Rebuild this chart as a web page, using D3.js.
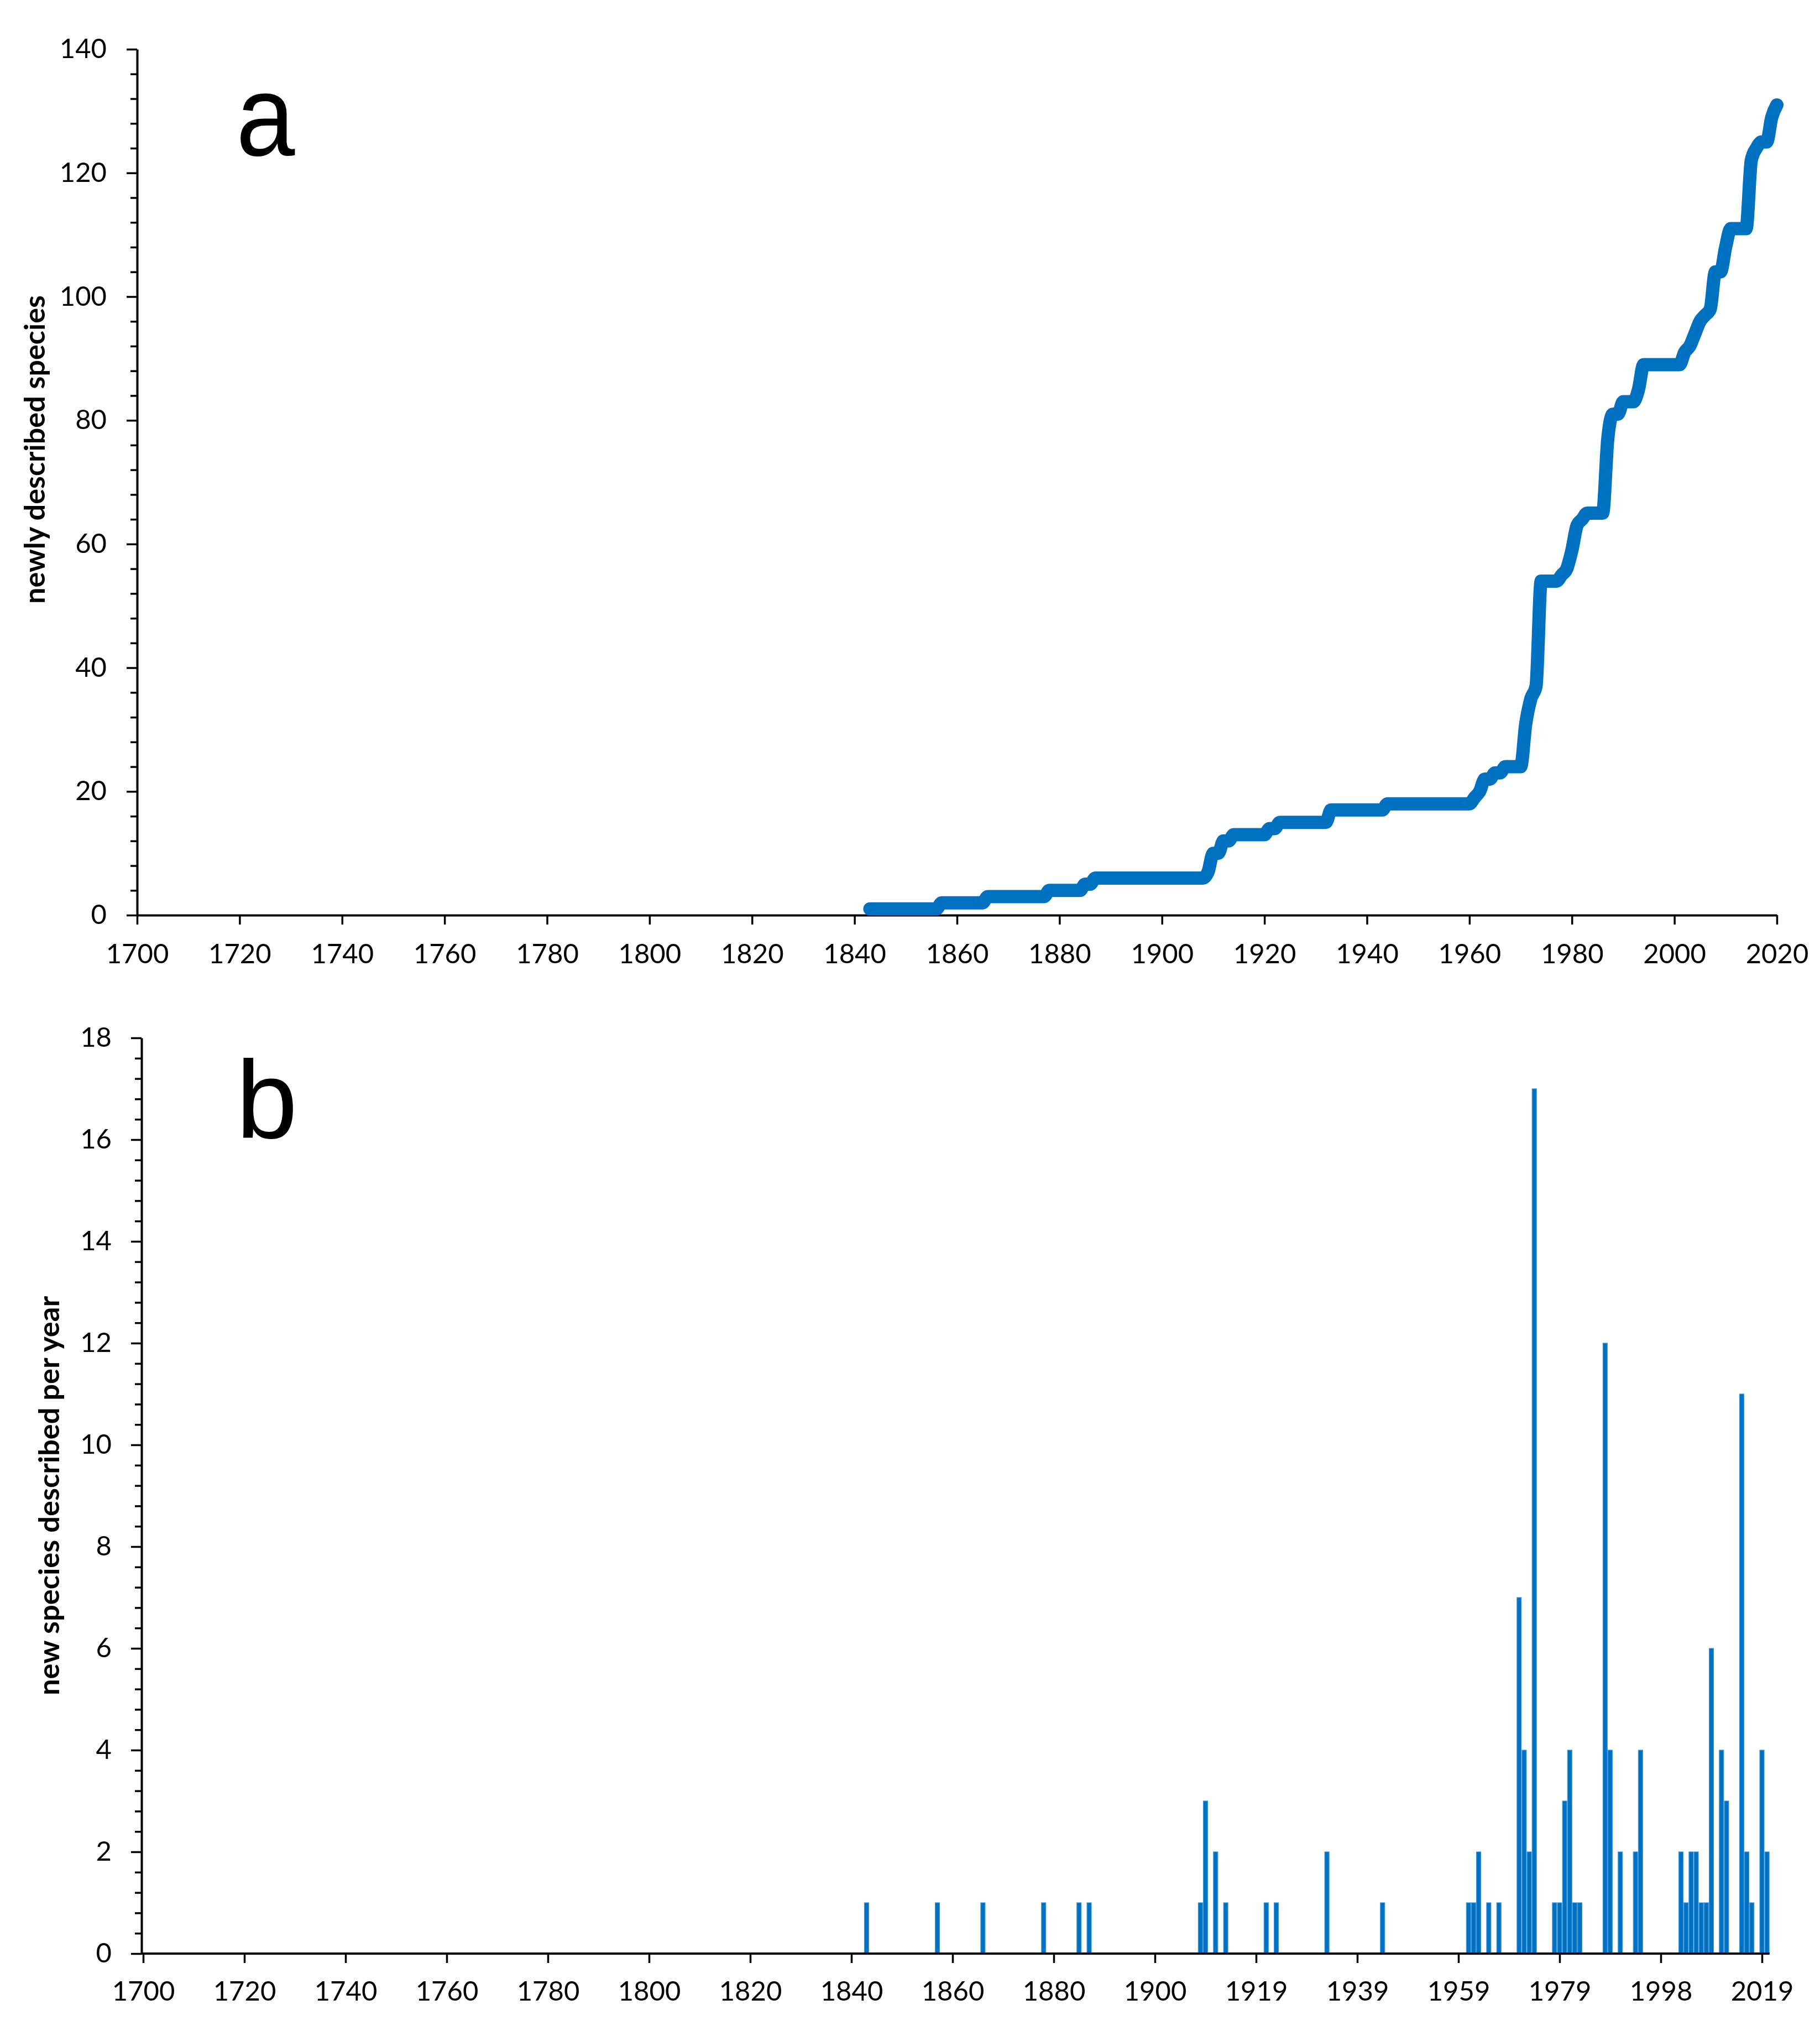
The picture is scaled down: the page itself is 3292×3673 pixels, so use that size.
<!DOCTYPE html>
<html>
<head>
<meta charset="utf-8">
<script src="https://cdn.jsdelivr.net/npm/d3@7"></script>
<style>
  body { margin: 0; background: #fff; }
  svg { display: block; }
  .tick text { font-family: Lato, "Open Sans", sans-serif; font-size: 49px; fill: #000; }
  .ylab { font-family: Lato, "Open Sans", sans-serif; font-weight: bold; font-size: 52px; }
  .panel { font-family: "Liberation Sans", Arial, sans-serif; }
</style>
</head>
<body>
<svg id="chart" width="3292" height="3673"></svg>
<script>
// species described per year (year, count)
var years  = [1843,1857,1866,1878,1885,1887,
              1909,1910,1912,1914,1921,1923,1933,1944,
              1961,1962,1963,1965,1967,1971,1972,1973,1974,
              1978,1979,1980,1981,1982,1983,1987,1988,1990,1993,1994,
              2002,2003,2004,2005,2006,2007,2008,2010,2011,
              2015,2016,2017,2019,2020];
var counts = [1,1,1,1,1,1,
              1,3,2,1,1,1,2,1,
              1,1,2,1,1,7,4,2,17,
              1,1,3,4,1,1,12,4,2,2,4,
              2,1,2,2,1,1,6,4,3,
              11,2,1,4,2];

// tick labels
var aXTicks = [1700,1720,1740,1760,1780,1800,1820,1840,1860,1880,1900,1920,1940,1960,1980,2000,2020];
var aYTicks = [0,20,40,60,80,100,120,140];
var bYTicks = [0,2,4,6,8,10,12,14,16,18];
var bXTickLabels = ["1700","1720","1740","1760","1780","1800","1820","1840","1860","1880",
                    "1900","1919","1939","1959","1979","1998","2019"];

var svg = d3.select("#chart");
var blue = "#0070c0";

// ---------- panel a : cumulative ----------
var xa = d3.scaleLinear().domain([1700, 2020]).range([248, 3214]);
var ya = d3.scaleLinear().domain([0, 140]).range([1655, 89]);

var byYear = new Map(years.map(function(y, i) { return [y, counts[i]]; }));
var cum = [];
var total = 0;
for (var yr = years[0]; yr <= 2020; yr++) {
  total += byYear.get(yr) || 0;
  cum.push({year: yr, n: total});
}

var ga = svg.append("g");

var minorA = d3.range(0, 141, 4).filter(function(d) { return d % 20 != 0; });
ga.append("g").attr("transform", "translate(248,0)")
  .call(d3.axisLeft(ya).tickValues(minorA).tickSize(12).tickFormat(""))
  .call(function(g) { g.select(".domain").remove(); });
ga.append("g").attr("transform", "translate(248,0)")
  .call(d3.axisLeft(ya).tickValues(aYTicks).tickSize(19).tickSizeOuter(0).tickPadding(36));

ga.append("g").attr("transform", "translate(0,1655)")
  .call(d3.axisBottom(xa).tickValues(aXTicks).tickFormat(d3.format("d")).tickSize(17).tickSizeOuter(0).tickPadding(35));

ga.append("path")
  .datum(cum)
  .attr("fill", "none")
  .attr("stroke", blue)
  .attr("stroke-width", 24)
  .attr("stroke-linecap", "round")
  .attr("stroke-linejoin", "round")
  .attr("d", d3.line().x(function(d) { return xa(d.year); }).y(function(d) { return ya(d.n); }).curve(d3.curveMonotoneX));

ga.append("text").attr("class", "ylab")
  .attr("transform", "translate(81,813) rotate(-90)")
  .attr("text-anchor", "middle")
  .attr("textLength", 558).attr("lengthAdjust", "spacingAndGlyphs")
  .text("newly described species");

ga.append("text").attr("class", "panel")
  .attr("transform", "translate(427,281) scale(0.92,1)")
  .attr("font-size", 208)
  .text("a");

// ---------- panel b : per year ----------
// the spreadsheet's category axis is not one slot per year: an extra slot
// after 1914 and after 1983, and one year short after 2011
var slotShift = d3.scaleThreshold().domain([1915, 1984, 2012]).range([0, 1, 2, 1]);
function slot(y) { return y - 1700 + slotShift(y); }

// slot centres
var xb = d3.scaleLinear().domain([0, 320]).range([259, 3187]);
var yb = d3.scaleLinear().domain([0, 18]).range([3533, 1877]);
var sw = xb(1) - xb(0);

var gb = svg.append("g");

gb.selectAll("rect.bar")
  .data(years.map(function(y, i) { return {year: y, n: counts[i]}; }))
  .enter().append("rect")
  .attr("class", "bar")
  .attr("x", function(d) { return xb(slot(d.year)) - sw / 2 + 0.6; })
  .attr("width", sw - 1.2)
  .attr("y", function(d) { return yb(d.n); })
  .attr("height", function(d) { return yb(0) - yb(d.n); })
  .attr("fill", blue)
  .attr("stroke", "#3f9be0")
  .attr("stroke-width", 1.2);

var minorB = d3.range(0, 46).filter(function(i) { return i % 5 != 0; }).map(function(i) { return i * 0.4; });
gb.append("g").attr("transform", "translate(256,0)")
  .call(d3.axisLeft(yb).tickValues(minorB).tickSize(12).tickFormat(""))
  .call(function(g) { g.select(".domain").remove(); });
gb.append("g").attr("transform", "translate(256,0)")
  .call(d3.axisLeft(yb).tickValues(bYTicks).tickSize(19).tickSizeOuter(0).tickPadding(35));

var bSlots = bXTickLabels.map(function(d, i) { return i * 20; });
gb.append("g").attr("transform", "translate(0,3533)")
  .call(d3.axisBottom(xb).tickValues(bSlots)
    .tickFormat(function(d, i) { return bXTickLabels[i]; })
    .tickSize(17).tickSizeOuter(0).tickPadding(33))
  .call(function(g) { g.select(".domain").remove(); });
gb.append("line")
  .attr("x1", 256).attr("x2", xb(321) + sw / 2)
  .attr("y1", 3533).attr("y2", 3533)
  .attr("stroke", "#000").attr("stroke-width", 4);

gb.append("text").attr("class", "ylab")
  .attr("transform", "translate(107,2705) rotate(-90)")
  .attr("text-anchor", "middle")
  .attr("textLength", 722).attr("lengthAdjust", "spacingAndGlyphs")
  .text("new species described per year");

gb.append("text").attr("class", "panel")
  .attr("x", 427).attr("y", 2058)
  .attr("font-size", 200)
  .text("b");

// axis styling
svg.selectAll(".domain").attr("stroke", "#000").attr("stroke-width", 4);
svg.selectAll(".tick line").attr("stroke", "#000").attr("stroke-width", 3.5);
</script>
</body>
</html>
